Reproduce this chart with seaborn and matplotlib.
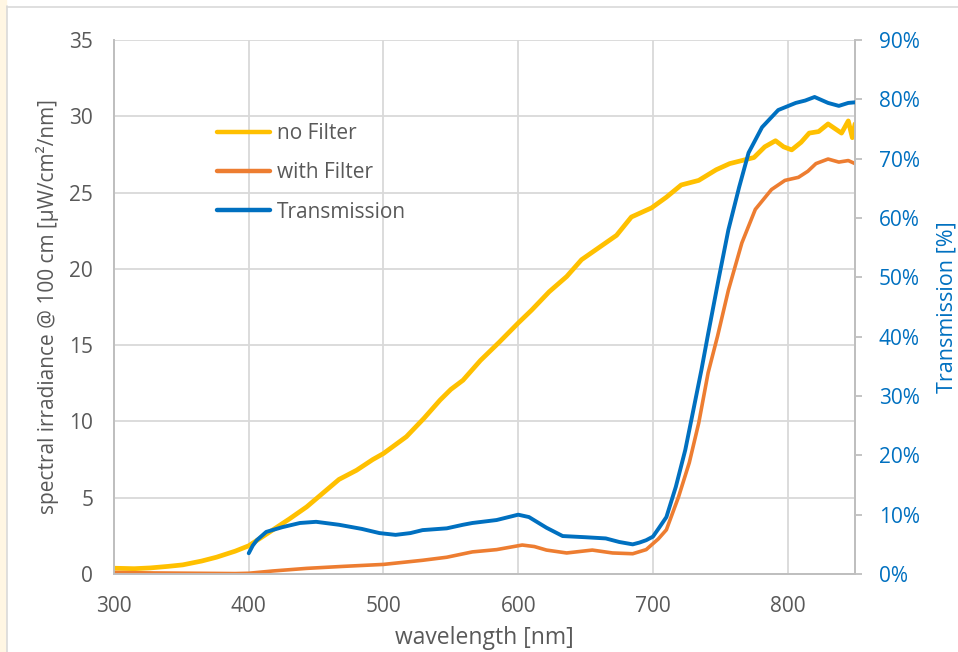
import numpy as np
import pandas as pd
import seaborn as sns
import matplotlib as mpl
import matplotlib.pyplot as plt
from matplotlib.lines import Line2D
from matplotlib.patches import Rectangle
from matplotlib.ticker import FuncFormatter

# no Filter (left axis, uW/cm2/nm)
wl_noFilter = [300, 315, 327, 340, 351, 365, 376, 390, 400, 418, 430, 443, 455, 467, 480, 492, 500,
               517, 530, 542, 550, 559, 572, 586, 600, 610, 623, 636, 647, 660, 673, 684, 699, 710,
               721, 734, 747, 757, 766, 775, 783, 791, 797, 803, 810, 816, 823, 830, 835, 840, 845, 848, 850]
irr_noFilter = [0.38, 0.35, 0.40, 0.50, 0.60, 0.85, 1.10, 1.50, 1.85, 2.90, 3.60, 4.40, 5.30, 6.20, 6.80, 7.50, 7.90,
                9.00, 10.2, 11.4, 12.1, 12.7, 14.0, 15.2, 16.45, 17.3, 18.5, 19.5, 20.6, 21.4, 22.2, 23.4, 24.0, 24.7,
                25.5, 25.8, 26.5, 26.9, 27.1, 27.3, 28.0, 28.4, 28.0, 27.8, 28.3, 28.9, 29.0, 29.5, 29.2, 28.9, 29.7, 28.6, 29.5]

# with Filter (left axis)
wl_withFilter = [300, 330, 360, 390, 400, 418, 443, 470, 500, 529, 547, 566, 584, 603, 612, 621, 636, 655, 670,
                 685, 695, 704, 710, 719, 727, 734, 741, 748, 756, 766, 776, 788, 798, 808, 815, 821, 830, 838, 845, 850]
irr_withFilter = [0.10, 0.07, 0.05, 0.03, 0.05, 0.20, 0.37, 0.50, 0.63, 0.90, 1.10, 1.45, 1.60, 1.90, 1.80, 1.57, 1.38, 1.57, 1.38,
                  1.33, 1.60, 2.30, 2.90, 5.05, 7.30, 9.90, 13.2, 15.6, 18.6, 21.7, 23.9, 25.2, 25.8, 26.0, 26.4, 26.9, 27.2, 27.0, 27.1, 26.9]

# Transmission (right axis, %)
wl_trans = [400, 403, 406, 413, 425, 438, 450, 467, 484, 497, 509, 520, 529, 547, 559, 566, 584, 600, 608, 621,
            633, 650, 665, 675, 685, 690, 695, 700, 704, 710, 717, 724, 729, 736, 741, 749, 756, 764, 771, 781,
            793, 806, 813, 820, 830, 838, 845, 850]
trans_pct = [3.5, 4.8, 5.7, 7.1, 7.9, 8.6, 8.8, 8.3, 7.6, 6.9, 6.6, 6.9, 7.4, 7.7, 8.3, 8.6, 9.1, 10.0, 9.6, 7.8,
             6.4, 6.2, 6.0, 5.4, 5.0, 5.3, 5.7, 6.3, 7.6, 9.6, 14.7, 20.9, 26.5, 34.4, 40.5, 50.0, 58.0, 65.2, 71.0, 75.3,
             78.2, 79.4, 79.8, 80.4, 79.4, 78.9, 79.4, 79.5]

yellow = '#FFC000'
orange = '#ED7D31'
blue = '#0070C0'
grey = '#595959'

sns.set_style('white')
mpl.rcParams['font.family'] = ['Open Sans', 'DejaVu Sans']

fig = plt.figure(figsize=(9.58, 6.52), dpi=100)
ax = fig.add_axes([0.119, 0.1196, 0.7735, 0.819])
ax2 = ax.twinx()

dNo = pd.DataFrame({'wl': wl_noFilter, 'v': irr_noFilter})
dWith = pd.DataFrame({'wl': wl_withFilter, 'v': irr_withFilter})
dT = pd.DataFrame({'wl': wl_trans, 'v': trans_pct})

sns.lineplot(data=dNo, x='wl', y='v', ax=ax, color=yellow, lw=3.4, zorder=3)
sns.lineplot(data=dWith, x='wl', y='v', ax=ax, color=orange, lw=2.6, zorder=3)
sns.lineplot(data=dT, x='wl', y='v', ax=ax2, color=blue, lw=2.8, zorder=3)

ax.set_xlim(300, 850)
ax.set_ylim(0, 35)
ax2.set_ylim(0, 90)
ax.set_xticks(range(300, 900, 100))
ax.set_yticks(range(0, 40, 5))
ax2.set_yticks(range(0, 100, 10))
ax2.yaxis.set_major_formatter(FuncFormatter(lambda y, p: '{:d}%'.format(int(y))))

ax.grid(True, color='#D9D9D9', lw=1.3)
ax.set_axisbelow(True)

for a in [ax, ax2]:
    a.spines['top'].set_visible(False)
    for s in ['left', 'right', 'bottom']:
        a.spines[s].set_color('#BFBFBF')
        a.spines[s].set_linewidth(1.3)

ax.tick_params(axis='both', length=0, colors=grey, labelsize=15)
ax.tick_params(axis='y', pad=15)
ax.tick_params(axis='x', pad=16)
ax2.tick_params(axis='y', length=5, width=1.3, color='#BFBFBF', labelcolor=blue, labelsize=15, pad=12)

ax.set_xlabel('wavelength [nm]', color=grey, fontsize=16.5, labelpad=6)
ax.set_ylabel('spectral irradiance @ 100 cm [µW/cm²/nm]', color=grey, fontsize=15, labelpad=7)
ax2.set_ylabel('Transmission [%]', color=blue, fontsize=15.5, labelpad=12)

handles = [Line2D([0], [0], color=yellow, lw=3.2),
           Line2D([0], [0], color=orange, lw=3.2),
           Line2D([0], [0], color=blue, lw=3.2)]
ax.legend(handles, ['no Filter', 'with Filter', 'Transmission'], frameon=False, loc='upper left',
          bbox_to_anchor=(0.114, 0.88), handlelength=2.55, handletextpad=0.3, labelspacing=0.88,
          fontsize=15, labelcolor=grey)

# screenshot frame bits
fig.patches.append(Rectangle((0, 0), 6/958, 1, transform=fig.transFigure, color='#FFF6E3', zorder=0))
fig.lines.append(Line2D([6.5/958, 6.5/958], [0, 1 - 6/652], transform=fig.transFigure, color='#D9D9D9', lw=1.2))
fig.lines.append(Line2D([6.5/958, 1], [1 - 6.5/652, 1 - 6.5/652], transform=fig.transFigure, color='#D9D9D9', lw=1.2))

plt.savefig('out.png', dpi=100)
plt.close()
